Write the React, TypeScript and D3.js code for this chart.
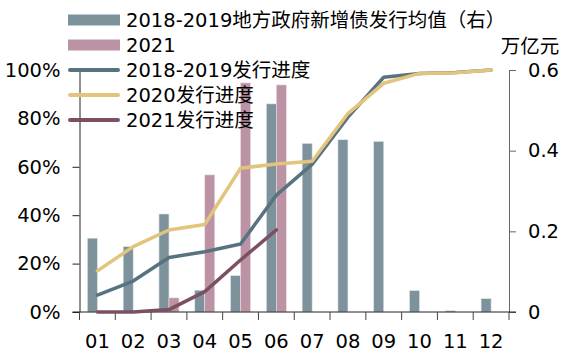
import React, { useEffect, useRef } from "react";
import * as d3 from "d3";

const months = ["01", "02", "03", "04", "05", "06", "07", "08", "09", "10", "11", "12"];

// bars, right axis (万亿元)
const avgIssue1819 = [0.183, 0.162, 0.243, 0.054, 0.09, 0.516, 0.418, 0.427, 0.423, 0.053, 0.003, 0.033];
const issue2021 = [0, 0, 0.035, 0.34, 0.568, 0.563];

// lines, left axis (%)
const progress1819 = [7, 12.8, 22.5, 24.9, 28.1, 48.3, 61, 80.5, 97, 98.6, 99, 100];
const progress2020 = [17, 27, 33.9, 36.2, 59.4, 61.2, 62.3, 82, 94.5, 98.6, 98.9, 100];
const progress2021 = [0, 0, 1, 8.4, 21.5, 33.9];

const leftTicks = [0, 20, 40, 60, 80, 100];
const rightTicks = [0, 0.2, 0.4, 0.6];

const legendItems = [
  { label: "2018-2019地方政府新增债发行均值（右）", kind: "bar", color: "#7e929c" },
  { label: "2021", kind: "bar", color: "#bb93a5" },
  { label: "2018-2019发行进度", kind: "line", color: "#587380" },
  { label: "2020发行进度", kind: "line", color: "#e2c47c" },
  { label: "2021发行进度", kind: "line", color: "#7d4f63" },
];

const W = 564;
const H = 359;
const FONT = '"DejaVu Sans", "Noto Sans CJK SC", sans-serif';
const FS = 19.5;

const App: React.FC = () => {
  const svgRef = useRef<SVGSVGElement>(null);

  useEffect(() => {
    const svg = d3.select(svgRef.current);
    svg.selectAll("*").remove();

    const margin = { top: 70, bottom: 47, left: 79.5 };
    const axisRight = 509;
    const plotBottom = H - margin.bottom;

    const x = d3.scaleBand<string>().domain(months).range([margin.left, axisRight]);
    const bw = x.bandwidth();
    const xs = d3
      .scaleBand<string>()
      .domain(["avg", "y2021"])
      .range([bw / 2 - 10, bw / 2 + 10]);

    const yL = d3.scaleLinear().domain([0, 100]).range([plotBottom, margin.top]);
    const yR = d3.scaleLinear().domain([0, 0.6]).range([plotBottom, margin.top]);

    // bars
    svg
      .append("g")
      .selectAll("rect")
      .data(avgIssue1819)
      .join("rect")
      .attr("x", (_, i) => (x(months[i]) as number) + (xs("avg") as number))
      .attr("y", (d) => yR(d))
      .attr("width", xs.bandwidth())
      .attr("height", (d) => yR(0) - yR(d))
      .attr("fill", "#7e929c")
      .attr("stroke", "#dde4e7")
      .attr("stroke-width", 0.6);

    svg
      .append("g")
      .selectAll("rect")
      .data(issue2021)
      .join("rect")
      .attr("x", (_, i) => (x(months[i]) as number) + (xs("y2021") as number))
      .attr("y", (d) => yR(d))
      .attr("width", xs.bandwidth())
      .attr("height", (d) => yR(0) - yR(d))
      .attr("fill", "#bb93a5")
      .attr("stroke", "#eadde3")
      .attr("stroke-width", 0.6);

    // axes
    const axisL = d3.axisLeft(yL).tickValues(leftTicks).tickFormat((d) => `${d}%`).tickSize(7).tickSizeOuter(0).tickPadding(12);
    const gL = svg.append("g").attr("transform", `translate(${margin.left},0)`).call(axisL);
    gL.select(".domain").attr("stroke", "#222");
    gL.selectAll(".tick line").attr("stroke", "#222");
    gL.selectAll("text").attr("font-size", FS).attr("font-family", FONT).attr("fill", "#000");

    const axisR = d3.axisRight(yR).tickValues(rightTicks).tickFormat((d) => (d === 0 ? "0" : d3.format(".1f")(d as number))).tickSize(7).tickSizeOuter(0).tickPadding(12);
    const gR = svg.append("g").attr("transform", `translate(${axisRight},0)`).call(axisR);
    gR.select(".domain").attr("stroke", "#666");
    gR.selectAll(".tick line").attr("stroke", "#666");
    gR.selectAll("text").attr("font-size", FS).attr("font-family", FONT).attr("fill", "#000");

    // bottom axis with boundary ticks
    const gB = svg.append("g");
    gB.append("line")
      .attr("x1", margin.left - 7)
      .attr("x2", axisRight + 7)
      .attr("y1", plotBottom)
      .attr("y2", plotBottom)
      .attr("stroke", "#222");
    const bounds = [...months.map((m) => x(m) as number), (x(months[11]) as number) + bw];
    gB.selectAll(".bt")
      .data(bounds)
      .join("line")
      .attr("x1", (d) => d)
      .attr("x2", (d) => d)
      .attr("y1", plotBottom)
      .attr("y2", plotBottom + 8)
      .attr("stroke", "#444");
    gB.selectAll("text")
      .data(months)
      .join("text")
      .attr("x", (d) => (x(d) as number) + bw / 2)
      .attr("y", plotBottom + 36)
      .attr("text-anchor", "middle")
      .attr("font-size", FS)
      .attr("font-family", FONT)
      .text((d) => d);

    // lines
    const line = d3
      .line<number>()
      .x((_, i) => (x(months[i]) as number) + bw / 2)
      .y((d) => yL(d));

    const drawLine = (data: number[], color: string) =>
      svg
        .append("path")
        .datum(data)
        .attr("d", line)
        .attr("fill", "none")
        .attr("stroke", color)
        .attr("stroke-width", 3.5)
        .attr("stroke-linejoin", "round")
        .attr("stroke-linecap", "round");

    drawLine(progress1819, "#587380");
    drawLine(progress2020, "#e2c47c");
    drawLine(progress2021, "#7d4f63");

    // unit label
    svg
      .append("text")
      .attr("x", 530)
      .attr("y", 53)
      .attr("text-anchor", "middle")
      .attr("font-size", FS)
      .attr("font-family", FONT)
      .text("万亿元");

    // legend
    const lg = svg.append("g");
    legendItems.forEach((it, i) => {
      const cy = 20 + i * 25;
      if (it.kind === "bar") {
        lg.append("rect").attr("x", 68).attr("y", cy - 5.5).attr("width", 52).attr("height", 11).attr("fill", it.color);
      } else {
        lg.append("line")
          .attr("x1", 70)
          .attr("x2", 118)
          .attr("y1", cy)
          .attr("y2", cy)
          .attr("stroke", it.color)
          .attr("stroke-width", 4)
          .attr("stroke-linecap", "round");
      }
      lg.append("text")
        .attr("x", 126)
        .attr("y", cy + 7)
        .attr("font-size", FS)
        .attr("font-family", FONT)
        .text(it.label);
    });
  }, []);

  return (
    <svg
      ref={svgRef}
      width={W}
      height={H}
      style={{ position: "absolute", left: 0, top: 0, background: "#fff" }}
    />
  );
};

export default App;
